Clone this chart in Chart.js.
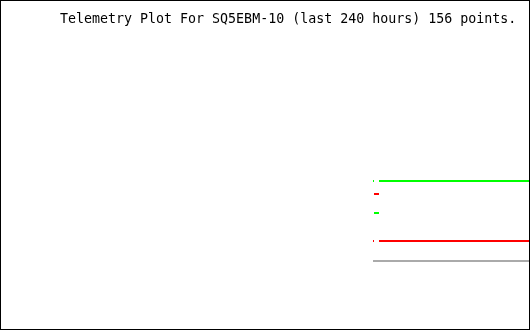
<!DOCTYPE html>
<html>
<head>
<meta charset="utf-8">
<script src="https://cdn.jsdelivr.net/npm/chart.js@4/dist/chart.umd.min.js"></script>
<style>
html,body{margin:0;padding:0;background:#fff;}
canvas{display:block;}
</style>
</head>
<body>
<canvas id="c" width="530" height="330"></canvas>
<script>
// Title
const titleText = "Telemetry Plot For SQ5EBM-10 (last 240 hours) 156 points.";

// Time axis (hours within the 240 h window)
const hoursRange = [0, 240];
// Value axis range
const valueRange = [0, 100];

// Series 1 (green) : sample times and values, null = gap
const greenHours  = [168.91, 169.36, null, 169.36, 171.62, null, 171.62, 240];
const greenValues = [45.15, 45.15, null, 35.45, 35.45, null, 45.15, 45.15];

// Series 2 (red)
const redHours  = [168.91, 169.36, null, 169.36, 171.62, null, 171.62, 240];
const redValues = [26.97, 26.97, null, 41.21, 41.21, null, 26.97, 26.97];

// Series 3 (gray)
const grayHours  = [168.91, 240];
const grayValues = [20.91, 20.91];

function toPoints(xs, ys){
  return xs.map((x,i)=> (x===null||ys[i]===null) ? {x:NaN,y:null} : {x:x,y:ys[i]});
}

const titlePlugin = {
  id:'titleText',
  afterDraw(chart){
    const ctx = chart.ctx;
    ctx.save();
    ctx.fillStyle = '#000';
    ctx.font = '13.3px "DejaVu Sans Mono", monospace';
    ctx.textBaseline = 'alphabetic';
    ctx.textAlign = 'left';
    ctx.fillText(titleText, 60, 22.5);
    ctx.strokeStyle = '#000';
    ctx.lineWidth = 1;
    ctx.strokeRect(0.5, 0.5, chart.width - 1, chart.height - 1);
    ctx.restore();
  }
};
const bgPlugin = {
  id:'bg',
  beforeDraw(chart){
    const ctx = chart.ctx;
    ctx.save();
    ctx.fillStyle = '#fff';
    ctx.fillRect(0,0,chart.width,chart.height);
    ctx.restore();
  }
};

new Chart(document.getElementById('c'), {
  type:'line',
  data:{
    datasets:[
      {label:'ch1', data:toPoints(greenHours, greenValues), borderColor:'#00ff00', borderWidth:2, pointRadius:0, spanGaps:false, tension:0, clip:false},
      {label:'ch2', data:toPoints(redHours, redValues), borderColor:'#ff0000', borderWidth:2, pointRadius:0, spanGaps:false, tension:0, clip:false},
      {label:'ch3', data:toPoints(grayHours, grayValues), borderColor:'#aaaaaa', borderWidth:2, pointRadius:0, spanGaps:false, tension:0, clip:false}
    ]
  },
  options:{
    responsive:false,
    animation:false,
    layout:{padding:0},
    plugins:{legend:{display:false}, title:{display:false}, tooltip:{enabled:false}},
    scales:{
      x:{type:'linear', min:hoursRange[0], max:hoursRange[1], display:false},
      y:{type:'linear', min:valueRange[0], max:valueRange[1], display:false}
    }
  },
  plugins:[bgPlugin, titlePlugin]
});
</script>
</body>
</html>
